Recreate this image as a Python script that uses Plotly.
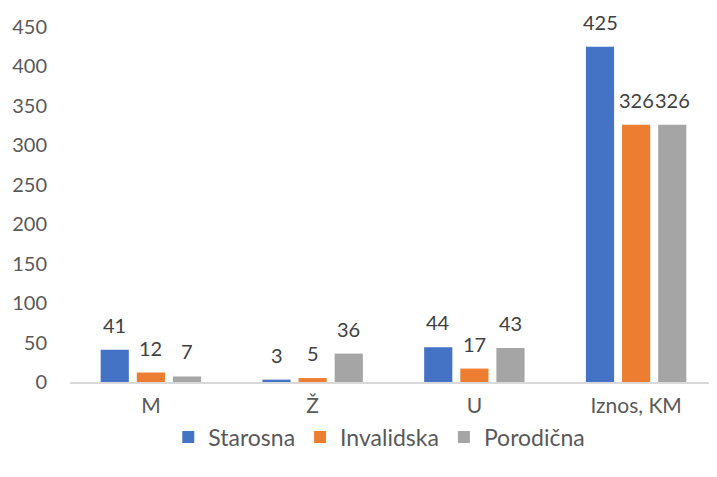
import plotly.graph_objects as go

categories = ["M", "Ž", "U", "Iznos, KM"]
starosna = [41, 3, 44, 425]
invalidska = [12, 5, 17, 326]
porodicna = [7, 36, 43, 326]
series_names = ["Starosna", "Invalidska", "Porodična"]
colors = ["#4472C4", "#ED7D31", "#A5A5A5"]
y_ticks = [0, 50, 100, 150, 200, 250, 300, 350, 400, 450]

FONT = "Lato, 'Open Sans', sans-serif"
W, H = 717, 477
# page body has an 8px margin, so shift everything up/left by that
M_L, M_R, M_T, M_B = 62, 8, 19, 103
BARGAP, GROUPGAP = 0.33, 0.22

fig = go.Figure()
all_series = [starosna, invalidska, porodicna]
for name, vals, col in zip(series_names, all_series, colors):
    fig.add_trace(go.Bar(
        x=categories, y=vals, name=name,
        marker=dict(color=col, line=dict(width=0)),
    ))

# data labels as annotations so they sit a bit higher above the bars
cat_px = (W - M_L - M_R) / len(categories)
step = (1 - BARGAP) * cat_px / len(all_series)
for i, vals in enumerate(all_series):
    for cat, v in zip(categories, vals):
        fig.add_annotation(
            x=cat, y=v, text=str(v), showarrow=False,
            xanchor="center", yanchor="bottom", yshift=11,
            xshift=(i - 1) * step,
            font=dict(size=20, color="#404040", family=FONT),
        )

fig.update_layout(
    width=W, height=H,
    margin=dict(l=M_L, r=M_R, t=M_T, b=M_B, autoexpand=False),
    paper_bgcolor="white", plot_bgcolor="white",
    font=dict(family=FONT, size=19, color="#595959"),
    barmode="group", bargap=BARGAP, bargroupgap=GROUPGAP,
    showlegend=True,
    legend=dict(orientation="h", x=0.478, xanchor="center", y=-0.155, yanchor="middle",
                font=dict(size=23, color="#595959"), itemwidth=30,
                traceorder="normal"),
)
fig.update_xaxes(showgrid=False, showline=True, linecolor="#D9D9D9", linewidth=1.5,
                 automargin=False,
                 ticks="outside", tickcolor="rgba(0,0,0,0)", ticklen=4,
                 tickfont=dict(size=21, color="#595959"))
fig.update_yaxes(range=[0, 450], tickvals=y_ticks, showgrid=False, zeroline=False,
                 automargin=False,
                 showline=False, ticks="outside", tickcolor="rgba(0,0,0,0)", ticklen=18,
                 tickfont=dict(size=20, color="#595959"))

fig.write_html("out.html")
